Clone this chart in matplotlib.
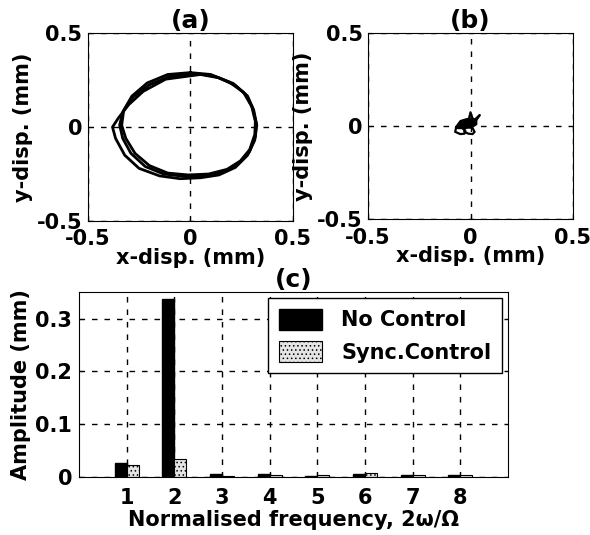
import matplotlib
matplotlib.use('Agg')
import matplotlib.pyplot as plt

plt.rcParams['font.family'] = ['DejaVu Sans']
plt.rcParams['font.size'] = 15
plt.rcParams['font.weight'] = 'bold'
plt.rcParams['axes.labelweight'] = 'bold'
plt.rcParams['axes.titleweight'] = 'bold'
plt.rcParams['hatch.linewidth'] = 0.6
plt.rcParams['hatch.color'] = '#555555'

# orbit without control (a), loops
orbit_a_x1 = [0.03, 0.12, 0.21, 0.27, 0.305, 0.322, 0.318, 0.29, 0.24, 0.17, 0.08, -0.03, -0.13, -0.22, -0.29, -0.33, -0.345, -0.33, -0.28, -0.20, -0.10, 0.03]
orbit_a_y1 = [0.285, 0.27, 0.232, 0.175, 0.10, 0.02, -0.05, -0.13, -0.19, -0.235, -0.258, -0.262, -0.25, -0.21, -0.14, -0.06, 0.01, 0.08, 0.16, 0.225, 0.27, 0.285]
orbit_a_x2 = [0.05, 0.14, 0.22, 0.28, 0.31, 0.325, 0.315, 0.28, 0.22, 0.14, 0.05, -0.05, -0.15, -0.25, -0.32, -0.365, -0.38, -0.35, -0.30, -0.23, -0.12, 0.05]
orbit_a_y2 = [0.28, 0.262, 0.222, 0.165, 0.09, 0.01, -0.07, -0.15, -0.215, -0.255, -0.27, -0.275, -0.26, -0.22, -0.15, -0.06, 0.00, 0.05, 0.12, 0.19, 0.255, 0.28]
orbit_a_x3 = [0.00, 0.10, 0.19, 0.26, 0.30, 0.318, 0.315, 0.29, 0.245, 0.18, 0.09, -0.01, -0.11, -0.20, -0.27, -0.315, -0.335, -0.325, -0.285, -0.21, -0.11, 0.00]
orbit_a_y3 = [0.29, 0.28, 0.24, 0.185, 0.11, 0.03, -0.04, -0.12, -0.18, -0.225, -0.25, -0.255, -0.245, -0.205, -0.14, -0.06, 0.01, 0.09, 0.165, 0.235, 0.28, 0.29]

# orbit with synchronous control (b)
blob_b_x = [-0.07, -0.05, -0.02, 0.01, 0.03, 0.03, 0.01, -0.02, -0.05, -0.07]
blob_b_y = [0.00, 0.03, 0.04, 0.045, 0.03, 0.01, -0.005, -0.01, -0.01, 0.00]
orbit_b_x1 = [-0.07, -0.06, -0.04, -0.025, -0.03, -0.05, -0.075, -0.07]
orbit_b_y1 = [-0.005, -0.01, -0.01, -0.025, -0.04, -0.042, -0.03, -0.005]
orbit_b_x2 = [-0.03, -0.01, 0.01, 0.02, 0.01, -0.01, -0.03, -0.03]
orbit_b_y2 = [-0.01, -0.005, -0.01, -0.03, -0.042, -0.04, -0.03, -0.01]
orbit_b_x3 = [-0.01, 0.00, 0.01, 0.02, 0.045, 0.02, 0.00]
orbit_b_y3 = [0.03, 0.075, 0.04, 0.035, 0.06, 0.02, 0.01]

# frequency spectrum (c)
harmonics = [1, 2, 3, 4, 5, 6, 7, 8]
no_control = [0.027, 0.3375, 0.007, 0.007, 0.003, 0.006, 0.004, 0.005]
sync_control = [0.023, 0.035, 0.003, 0.004, 0.004, 0.008, 0.004, 0.004]

fig = plt.figure(figsize=(5.9, 5.35), dpi=100)
ax_a = fig.add_axes([0.149, 0.587, 0.347, 0.351])
ax_b = fig.add_axes([0.624, 0.590, 0.347, 0.348])
ax_c = fig.add_axes([0.134, 0.108, 0.727, 0.346])

for x, y in [(orbit_a_x1, orbit_a_y1), (orbit_a_x2, orbit_a_y2), (orbit_a_x3, orbit_a_y3)]:
    ax_a.plot(x, y, color='black', lw=2)

ax_b.fill(blob_b_x, blob_b_y, color='black')
for x, y in [(orbit_b_x1, orbit_b_y1), (orbit_b_x2, orbit_b_y2), (orbit_b_x3, orbit_b_y3)]:
    ax_b.plot(x, y, color='black', lw=1.6)

for ax, lbl in [(ax_a, '(a)'), (ax_b, '(b)')]:
    ax.set_xlim(-0.5, 0.5)
    ax.set_ylim(-0.5, 0.5)
    ax.set_xticks([-0.5, 0, 0.5])
    ax.set_yticks([-0.5, 0, 0.5])
    ax.set_xticklabels(['-0.5', '0', '0.5'])
    ax.set_yticklabels(['-0.5', '0', '0.5'])
    ax.grid(True, color='black', linestyle=(0, (4, 5)), lw=1)
    ax.tick_params(direction='in', length=3)
    ax.tick_params(axis='x', pad=6)
    ax.tick_params(axis='y', pad=4)
    ax.set_xlabel('x-disp. (mm)', labelpad=-1)
    ax.set_ylabel('y-disp. (mm)', labelpad=3)
    ax.set_title(lbl, pad=1)

w = 0.25
ax_c.bar([h - w / 2 for h in harmonics], no_control, width=w, color='black', edgecolor='black', label='No Control')
ax_c.bar([h + w / 2 for h in harmonics], sync_control, width=w, color='#e4e4e4', edgecolor='black',
         hatch='....', lw=0.8, label='Sync.Control')
ax_c.set_xlim(0, 9)
ax_c.set_ylim(0, 0.35)
ax_c.set_xticks(harmonics)
ax_c.set_yticks([0, 0.1, 0.2, 0.3])
ax_c.set_yticklabels(['0', '0.1', '0.2', '0.3'])
ax_c.grid(True, color='black', linestyle=(0, (4, 5)), lw=1)
ax_c.set_axisbelow(True)
ax_c.tick_params(direction='in', length=3)
ax_c.tick_params(axis='x', pad=8)
ax_c.tick_params(axis='y', pad=5)
ax_c.set_xlabel('Normalised frequency, 2\u03c9/\u03a9', labelpad=1)
ax_c.set_ylabel('Amplitude (mm)', labelpad=3)
ax_c.set_title('(c)', pad=3)
leg = ax_c.legend(loc='upper right', fancybox=False, edgecolor='black', framealpha=1,
                  handlelength=2.1, handleheight=1.2, handletextpad=0.9, borderaxespad=0.3,
                  borderpad=0.5, labelspacing=0.5, prop={'size': 15, 'weight': 'bold'})
leg.get_frame().set_linewidth(1)

plt.savefig('out.png', dpi=100)
